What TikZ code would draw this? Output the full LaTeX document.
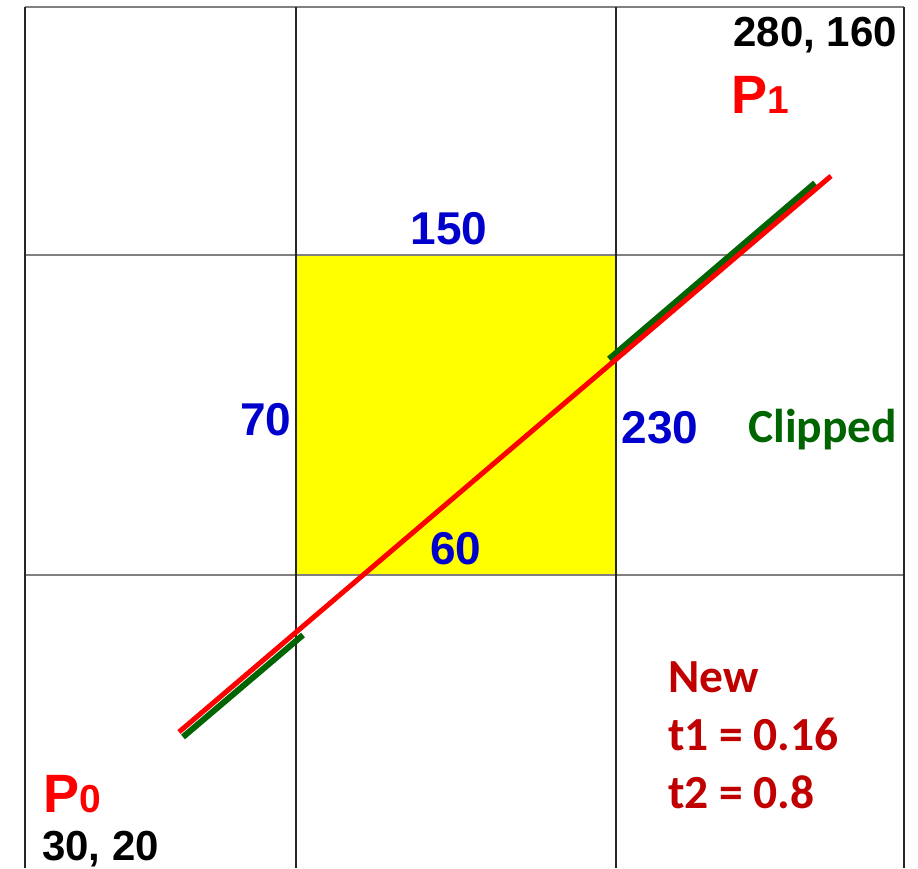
\documentclass[tikz,border=0pt]{standalone}
\usepackage{fontspec}
\setmainfont{Liberation Sans}
\newfontfamily\calfont{Carlito}
\definecolor{numblue}{HTML}{0000CC}
\definecolor{cutgreen}{HTML}{006400}
\definecolor{newred}{HTML}{C00000}
\definecolor{gridgray}{HTML}{808080}
\definecolor{winyellow}{HTML}{FFFF00}
\tikzset{
  numlabel/.style={inner sep=0pt, text=numblue, font=\fontsize{46}{46}\selectfont\bfseries},
  xylabel/.style={inner sep=0pt, font=\fontsize{42}{42}\selectfont\bfseries},
  ptlabel/.style={inner sep=0pt, text=red, font=\fontsize{54}{54}\selectfont\bfseries},
  notelabel/.style={inner sep=0pt, font=\fontsize{47.5}{47.5}\selectfont\calfont\bfseries},
}
\newcommand{\subnum}[1]{{\fontsize{39}{39}\selectfont #1}}

\begin{document}
\begin{tikzpicture}[x=1pt, y=-1pt, line cap=butt]

    \useasboundingbox (0,0) rectangle (918,868);

    % === grid coordinates ===
    \coordinate (W) at (296,255);
    \coordinate (E) at (616,575);

    % === clip window ===
    \fill[winyellow] (W) rectangle (E);

    % === grid lines ===
    \foreach \y in {7,255,575}
        \draw[gridgray, line width=2pt] (25,\y) -- (904,\y);
    \foreach \x in {25,296,616,904}
        \draw[black!85, line width=1.4pt] (\x,7) -- (\x,868);

    % === end points of the segment ===
    \coordinate (P0) at (179,732);
    \coordinate (P1) at (831,176);
    \coordinate (A0) at (183,737);
    \coordinate (A1) at (303,635);
    \coordinate (B0) at (609,359);
    \coordinate (B1) at (815,183);

    % === clipped parts ===
    \draw[cutgreen, line width=6pt] (A0) -- (A1);
    \draw[cutgreen, line width=6pt] (B0) -- (B1);

    % === the segment ===
    \draw[red, line width=5pt] (P0) -- (P1);

    % === window edges ===
    \node[numlabel, anchor=base] (top) at (449,244) {150};
    \node[numlabel, anchor=base] (left) at (266,435) {70};
    \node[numlabel, anchor=base] (right) at (660,443) {230};
    \node[numlabel, anchor=base] (bottom) at (456,564) {60};

    % === point labels ===
    \node[ptlabel, anchor=base west] (p1name) at (731,113) {P\subnum{1}};
    \node[xylabel, anchor=base east] (p1xy) at (897,46) {280, 160};
    \node[ptlabel, anchor=base west] (p0name) at (43,812) {P\subnum{0}};
    \node[xylabel, anchor=base west] (p0xy) at (42,860) {30, 20};

    % === notes ===
    \node[notelabel, text=cutgreen, anchor=base west] (clip) at (748,442) {Clipped};
    \node[notelabel, text=newred, anchor=base west] (new) at (668,692) {New};
    \node[notelabel, text=newred, anchor=base west] (tone) at (668,750) {t1 = 0.16};
    \node[notelabel, text=newred, anchor=base west] (ttwo) at (668,808) {t2 = 0.8};

\end{tikzpicture}
\end{document}
